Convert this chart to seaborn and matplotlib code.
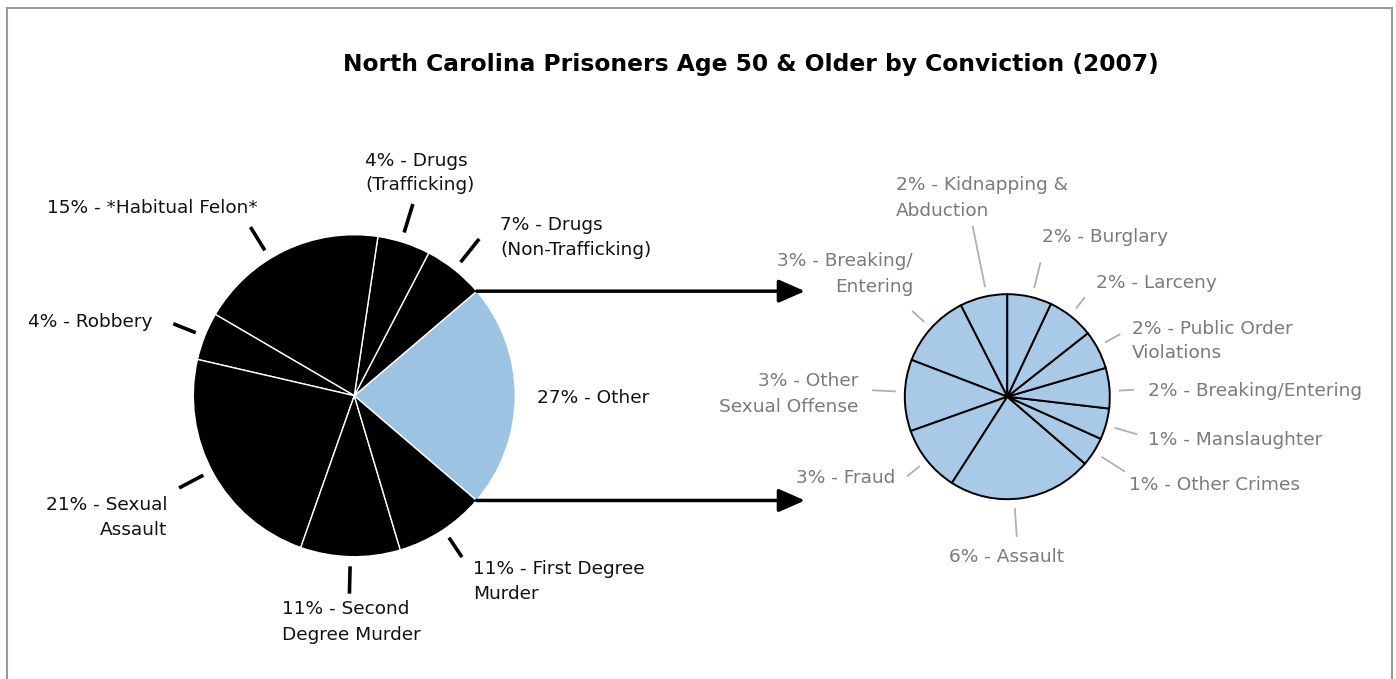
import numpy as np
import seaborn as sns
import matplotlib.pyplot as plt
from matplotlib.patches import Rectangle

sns.set_theme(style="white")
plt.rcParams['font.family'] = ['DejaVu Sans']

W, H = 1396, 679

# --- data: main pie (share of slice as drawn, text label as printed) ---
main_labels = ['27% - Other', '7% - Drugs\n(Non-Trafficking)', '4% - Drugs\n(Trafficking)',
               '15% - *Habitual Felon*', '4% - Robbery', '21% - Sexual\nAssault',
               '11% - Second\nDegree Murder', '11% - First Degree\nMurder']
main_share = [22.5, 6.1, 5.3, 18.9, 4.8, 23.2, 10.0, 9.1]

# --- data: breakdown of "Other" ---
other_labels = ['2% - Kidnapping &\nAbduction', '3% - Breaking/\nEntering', '3% - Other\nSexual Offense',
                '3% - Fraud', '6% - Assault', '1% - Other Crimes', '1% - Manslaughter',
                '2% - Breaking/Entering', '2% - Public Order\nViolations', '2% - Larceny', '2% - Burglary']
other_share = [7.5, 11.7, 11.3, 10.5, 22.8, 4.6, 4.9, 6.4, 6.1, 7.4, 7.0]

# layout (screen pixels, y down)
main_c, main_r, main_start = (354.3, 395.7), 161, -40.6
small_c, small_r, small_start = (1007.3, 396.7), 102.5, 90

main_text = [(537, 398, 'left'), (500, 237.5, 'left'), (365, 173, 'left'), (47, 208, 'left'),
             (28, 322, 'left'), (167, 517.5, 'right'), (282, 622, 'left'), (473, 581.5, 'left')]
main_lead = [None, 1.245, 1.245, 1.23, 1.21, 1.23, 1.23, 1.205]
main_nudge = [0, 0, 1, 6, 0, -1, 0, 0.7]

small_text = [(896, 198, 'left'), (913, 274, 'right'), (858, 394, 'right'), (895, 478, 'right'),
              (1007, 557, 'center'), (1129, 485, 'left'), (1148, 440, 'left'), (1148, 391, 'left'),
              (1132, 341, 'left'), (1096, 283, 'left'), (1042, 237, 'left')]
small_lead = [1.70, 1.25, 1.32, 1.25, 1.37, 1.36, 1.32, 1.24, 1.26, 1.23, 1.35]
small_nudge = [-2, 0, -2, 0, -4.4, 0, -0.7, -1.7, 1.7, 0.5, -1.3]

fig = plt.figure(figsize=(W / 100, H / 100), dpi=100)
ax = fig.add_axes([0, 0, 1, 1])


def Y(y):
    return H - y


def draw_pie(share, colors, center, radius, start, edge, lw):
    wedges, _ = ax.pie(share, colors=colors, startangle=start, counterclock=True,
                       center=(center[0], Y(center[1])), radius=radius,
                       wedgeprops=dict(edgecolor=edge, linewidth=lw))
    return wedges


main_colors = ['#9cc3e2'] + ['black'] * (len(main_share) - 1)
mw = draw_pie(main_share, main_colors, main_c, main_r, main_start, 'white', 1.0)
sw = draw_pie(other_share, ['#a8cae6'] * len(other_share), small_c, small_r, small_start, 'black', 1.4)


def label_pie(wedges, labels, texts, leads, nudges, center, radius, tcolor, lcolor, llw, inner):
    cx, cy = center[0], Y(center[1])
    for w, lab, (tx, ty, ha), lead, nd in zip(wedges, labels, texts, leads, nudges):
        ax.text(tx, Y(ty), lab, ha=ha, va='center', multialignment=ha if ha != 'center' else 'center',
                fontsize=13.3, color=tcolor, linespacing=1.5)
        if lead is None:
            continue
        ang = np.deg2rad((w.theta1 + w.theta2) / 2 + nd)
        r0, r1 = radius * inner, radius * lead
        ax.plot([cx + r0 * np.cos(ang), cx + r1 * np.cos(ang)],
                [cy + r0 * np.sin(ang), cy + r1 * np.sin(ang)],
                color=lcolor, lw=llw, solid_capstyle='butt')


label_pie(mw, main_labels, main_text, main_lead, main_nudge, main_c, main_r, '#111111', 'black', 2.6, 1.06)
label_pie(sw, other_labels, small_text, small_lead, small_nudge, small_c, small_r, '#7a7a7a', '#b0b0b0', 1.3, 1.09)

# arrows from the edges of the "Other" slice
other = mw[0]
cx, cy = main_c[0], Y(main_c[1])
for th in (other.theta2, other.theta1):
    a = np.deg2rad(th)
    x0, y0 = cx + main_r * np.cos(a), cy + main_r * np.sin(a)
    ax.annotate('', xy=(805, y0), xytext=(x0, y0),
                arrowprops=dict(arrowstyle='-|>,head_length=0.8,head_width=0.35', lw=2.5,
                                color='black', shrinkA=0, shrinkB=0, mutation_scale=20))

ax.text(751, Y(64), 'North Carolina Prisoners Age 50 & Older by Conviction (2007)',
        ha='center', va='center', fontsize=16.8, fontweight='bold', color='black')

ax.set_xlim(0, W)
ax.set_ylim(0, H)
ax.set_aspect('equal')
ax.axis('off')

fig.patches.append(Rectangle((7 / W, -0.05), (1392 - 7) / W, 1 - 8 / H + 0.05, transform=fig.transFigure,
                             fill=False, edgecolor='#9a9a9a', linewidth=1.5))

fig.savefig('out.png', dpi=100)
